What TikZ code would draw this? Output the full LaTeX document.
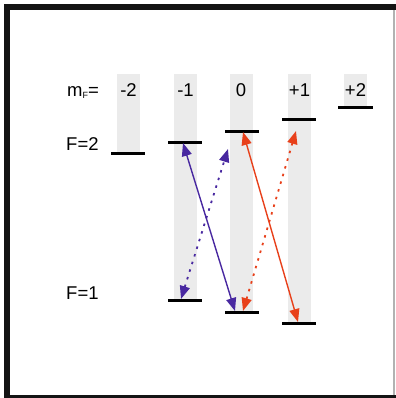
\documentclass[tikz,border=0pt]{standalone}
\usepackage{fontspec}
\setmainfont{Liberation Sans}
\usetikzlibrary{arrows.meta}
\definecolor{barg}{RGB}{235,235,235}
\definecolor{purp}{RGB}{72,40,160}
\definecolor{redo}{RGB}{232,64,26}
\tikzset{
  lvl/.style={line width=3bp, black},
  bar/.style={fill=barg, draw=none},
  lab/.style={inner sep=0pt, font=\fontsize{18.5bp}{22bp}\selectfont},
  tipset/.style={{Triangle[length=13bp,width=10bp]}-{Triangle[length=13bp,width=10bp]}},
  solidarr/.style={line width=1.4bp, tipset},
  dotarr/.style={line width=1.8bp, dash pattern=on 2.5bp off 5.5bp, tipset}
}
\begin{document}
\begin{tikzpicture}[x=1bp,y=-1bp]
\useasboundingbox (0,0) rectangle (396,398);
% frame
\fill[black!92] (4,4) rectangle (10,398);
\fill[black!92] (4,4) rectangle (396,10);
\fill[black!92] (4,395) rectangle (396,398);
\draw[gray!60, line width=1.2bp] (394,10) -- (394,395);
% gray bars
\fill[bar] (117,74) rectangle (140,153);
\fill[bar] (174,74) rectangle (197,300);
\fill[bar] (230,74) rectangle (253,312);
\fill[bar] (288,74) rectangle (311,323);
\fill[bar] (344,74) rectangle (367,107);
% labels
\node[lab, anchor=base west] (mf) at (67,96) {m\raisebox{-2.5bp}{\fontsize{9bp}{9bp}\selectfont F}=};
\node[lab, anchor=base] (cm2) at (128.5,96) {-2};
\node[lab, anchor=base] (cm1) at (185.5,96) {-1};
\node[lab, anchor=base] (c0) at (241,96) {0};
\node[lab, anchor=base] (cp1) at (299.5,96) {+1};
\node[lab, anchor=base] (cp2) at (355.5,96) {+2};
\node[lab, anchor=base west] (f2) at (66,150) {F=2};
\node[lab, anchor=base west] (f1) at (66,299) {F=1};
% levels
\draw[lvl] (111,153) -- (145,153);
\draw[lvl] (168,142) -- (202,142);
\draw[lvl] (225,131) -- (259,131);
\draw[lvl] (282,119) -- (316,119);
\draw[lvl] (338,107) -- (373,107);
\draw[lvl] (168,300) -- (202,300);
\draw[lvl] (225,312) -- (259,312);
\draw[lvl] (282,323) -- (316,323);
% arrow end points
\coordinate (pa) at (183,143);
\coordinate (pb) at (235,311);
\coordinate (qa) at (181,299);
\coordinate (qb) at (228,149);
\coordinate (ra) at (243,132);
\coordinate (rb) at (298,322);
\coordinate (sa) at (243,311);
\coordinate (sb) at (296,131);
\draw[solidarr, purp] (pa) -- (pb);
\draw[dotarr, purp] (qa) -- (qb);
\draw[solidarr, redo] (ra) -- (rb);
\draw[dotarr, redo] (sa) -- (sb);
\end{tikzpicture}
\end{document}
